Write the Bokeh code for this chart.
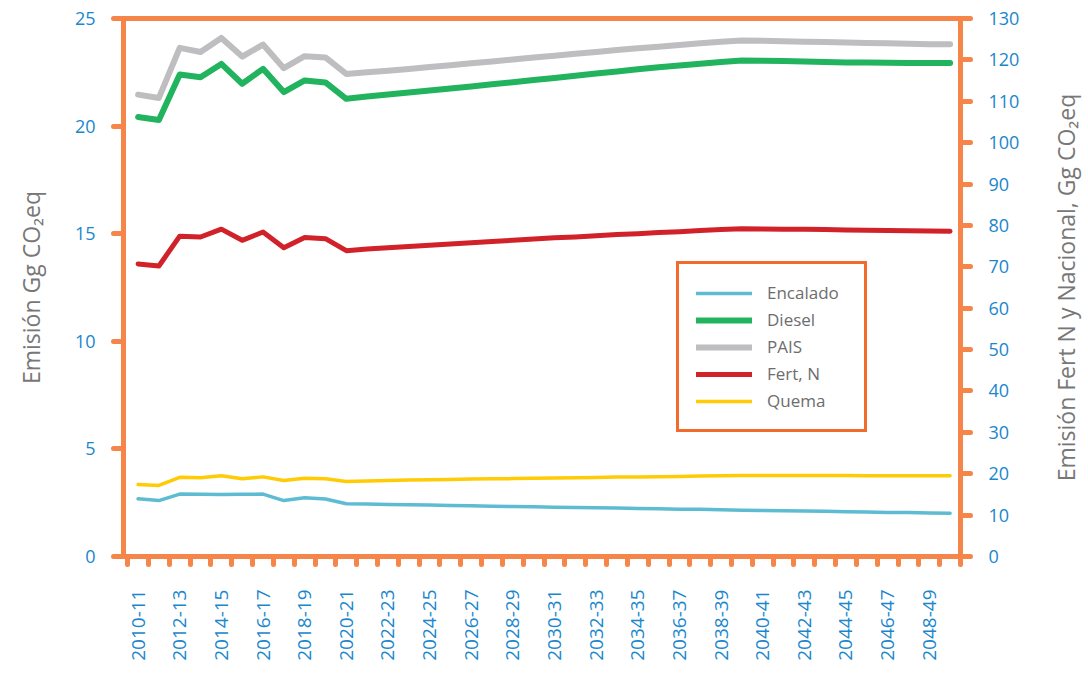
import math
from bokeh.plotting import figure
from bokeh.layouts import row
from bokeh.models import Range1d, LinearAxis, FixedTicker, Legend, LegendItem
from bokeh.core.properties import value
from bokeh.embed import file_html
from bokeh.resources import INLINE

periods = ["2010-11", "2011-12", "2012-13", "2013-14", "2014-15", "2015-16", "2016-17", "2017-18",
           "2018-19", "2019-20", "2020-21", "2021-22", "2022-23", "2023-24", "2024-25", "2025-26",
           "2026-27", "2027-28", "2028-29", "2029-30", "2030-31", "2031-32", "2032-33", "2033-34",
           "2034-35", "2035-36", "2036-37", "2037-38", "2038-39", "2039-40", "2040-41", "2041-42",
           "2042-43", "2043-44", "2044-45", "2045-46", "2046-47", "2047-48", "2048-49", "2049-50"]

# left axis (Gg CO2eq)
encalado = [2.68, 2.60, 2.90, 2.89, 2.88, 2.89, 2.90, 2.60, 2.73, 2.67, 2.45, 2.44, 2.42, 2.41, 2.39,
            2.37, 2.36, 2.34, 2.32, 2.31, 2.29, 2.28, 2.26, 2.25, 2.23, 2.22, 2.20, 2.19, 2.17, 2.15,
            2.14, 2.13, 2.11, 2.10, 2.08, 2.07, 2.05, 2.04, 2.02, 2.01]
diesel = [20.42, 20.28, 22.40, 22.27, 22.89, 21.97, 22.66, 21.58, 22.12, 22.03, 21.27, 21.38, 21.47,
          21.56, 21.65, 21.75, 21.84, 21.94, 22.04, 22.14, 22.24, 22.34, 22.44, 22.54, 22.64, 22.73,
          22.82, 22.90, 22.98, 23.05, 23.04, 23.02, 23.00, 22.98, 22.96, 22.95, 22.94, 22.93, 22.93, 22.93]
quema = [3.35, 3.30, 3.68, 3.66, 3.75, 3.61, 3.70, 3.53, 3.64, 3.61, 3.49, 3.51, 3.53, 3.55, 3.57,
         3.58, 3.60, 3.61, 3.62, 3.64, 3.65, 3.66, 3.67, 3.69, 3.70, 3.71, 3.72, 3.74, 3.75, 3.76,
         3.76, 3.76, 3.76, 3.76, 3.76, 3.75, 3.75, 3.75, 3.75, 3.75]
# right axis (Fert N y Nacional)
pais = [111.6, 110.8, 122.9, 121.9, 125.3, 120.8, 123.7, 118.0, 120.9, 120.6, 116.6, 117.0, 117.4,
        117.8, 118.3, 118.7, 119.2, 119.6, 120.1, 120.6, 121.0, 121.5, 121.9, 122.4, 122.8, 123.2,
        123.6, 124.0, 124.4, 124.7, 124.6, 124.5, 124.4, 124.3, 124.2, 124.1, 124.0, 123.9, 123.8, 123.8]
fert_n = [70.7, 70.2, 77.4, 77.2, 79.1, 76.4, 78.4, 74.6, 77.1, 76.8, 73.9, 74.3, 74.6, 74.9, 75.2,
          75.5, 75.8, 76.1, 76.4, 76.7, 77.0, 77.2, 77.5, 77.8, 78.0, 78.3, 78.5, 78.8, 79.0, 79.2,
          79.15, 79.1, 79.05, 79.0, 78.9, 78.85, 78.8, 78.7, 78.65, 78.6]

left_ticks = [0, 5, 10, 15, 20, 25]
right_ticks = [0, 10, 20, 30, 40, 50, 60, 70, 80, 90, 100, 110, 120, 130]
left_title = "Emisión Gg CO₂eq"
right_title = "Emisión Fert N y Nacional, Gg CO₂eq"

ORANGE = "#F58549"
TICK_TXT = "#1A87CC"
AX_TXT = "#777777"
FONT = "Open Sans"
FRAME_H = 538
TOP = 18
BOTTOM = 114

xs = list(range(len(periods)))

p = figure(frame_width=837, frame_height=FRAME_H,
           x_range=Range1d(-0.7, len(periods) - 0.5), y_range=Range1d(0, 25),
           output_backend="svg", toolbar_location=None,
           min_border_left=73, min_border_right=70, min_border_top=TOP, min_border_bottom=BOTTOM,
           background_fill_color="white", border_fill_color="white")
p.extra_y_ranges = {"r": Range1d(0, 130)}
p.xgrid.visible = False
p.ygrid.visible = False
p.outline_line_color = ORANGE
p.outline_line_width = 5

right = LinearAxis(y_range_name="r")
p.add_layout(right, "right")

def style_axis(ax):
    ax.axis_line_color = ORANGE
    ax.axis_line_width = 5
    ax.axis_line_cap = "round"
    ax.major_tick_line_color = ORANGE
    ax.major_tick_line_width = 5
    ax.major_tick_line_cap = "round"
    ax.major_tick_in = 0
    ax.major_tick_out = 10
    ax.minor_tick_line_color = None
    ax.major_label_text_color = TICK_TXT
    ax.major_label_text_font = FONT
    ax.major_label_text_font_size = "18px"
    ax.major_label_standoff = 18

left = p.yaxis[0]
for ax in p.yaxis:
    style_axis(ax)
left.ticker = FixedTicker(ticks=left_ticks)
right.ticker = FixedTicker(ticks=right_ticks)

xax = p.xaxis[0]
style_axis(xax)
xax.ticker = FixedTicker(ticks=xs[::2], minor_ticks=[i - 0.5 for i in range(len(periods) + 1)])
xax.major_label_overrides = {i: periods[i] for i in xs[::2]}
xax.major_label_text_font_size = "19px"
xax.major_tick_out = 0
xax.major_tick_line_color = None
xax.minor_tick_line_color = ORANGE
xax.minor_tick_line_width = 5
xax.minor_tick_line_cap = "round"
xax.minor_tick_in = 0
xax.minor_tick_out = 8
xax.major_label_orientation = math.pi / 2
xax.major_label_standoff = 25

kw = dict(line_join="round", line_cap="round")
r_enc = p.line(xs, encalado, line_color="#5DBCD2", line_width=3.5, **kw)
r_die = p.line(xs, diesel, line_color="#22B35E", line_width=6, **kw)
r_pais = p.line(xs, pais, line_color="#BEBEC0", line_width=6, y_range_name="r", **kw)
r_fert = p.line(xs, fert_n, line_color="#D12229", line_width=5, y_range_name="r", **kw)
r_que = p.line(xs, quema, line_color="#FFCB05", line_width=3.5, **kw)

legend = Legend(items=[LegendItem(label="Encalado", renderers=[r_enc]),
                       LegendItem(label="Diesel", renderers=[r_die]),
                       LegendItem(label="PAIS", renderers=[r_pais]),
                       LegendItem(label="Fert, N", renderers=[r_fert]),
                       LegendItem(label="Quema", renderers=[r_que])],
                location=(553, 124), border_line_color="#F26B2D", border_line_width=3,
                border_line_alpha=1.0,
                background_fill_color="white", background_fill_alpha=1.0,
                label_text_font=FONT, label_text_font_size="17px", label_text_color="#6d6d6d",
                glyph_width=56, glyph_height=20, label_standoff=15, spacing=4, padding=17,
                label_height=20, label_width=80, margin=0)
p.add_layout(legend, "center")

# side panels carrying the vertical axis titles, sharing the main frame's vertical layout
def title_panel(w, tx, text):
    f = figure(frame_width=w, frame_height=FRAME_H, x_range=Range1d(0, w), y_range=Range1d(0, 25),
               x_axis_location=None, y_axis_location=None,
               min_border_left=0, min_border_right=0, min_border_top=TOP, min_border_bottom=BOTTOM,
               output_backend="svg", toolbar_location=None,
               background_fill_color="white", border_fill_color="white")
    f.outline_line_color = None
    f.xgrid.visible = False
    f.ygrid.visible = False
    f.text(x=[tx], y=[12.5], text=[text], angle=math.pi / 2,
           text_align="center", text_baseline="middle",
           text_font=value(FONT), text_font_size="23px", text_color=AX_TXT)
    return f

pl = title_panel(50, 30, left_title)
pr = title_panel(55, 35, right_title)

layout = row(pl, p, pr, spacing=0)
open("out.html", "w").write(file_html(layout, INLINE))
